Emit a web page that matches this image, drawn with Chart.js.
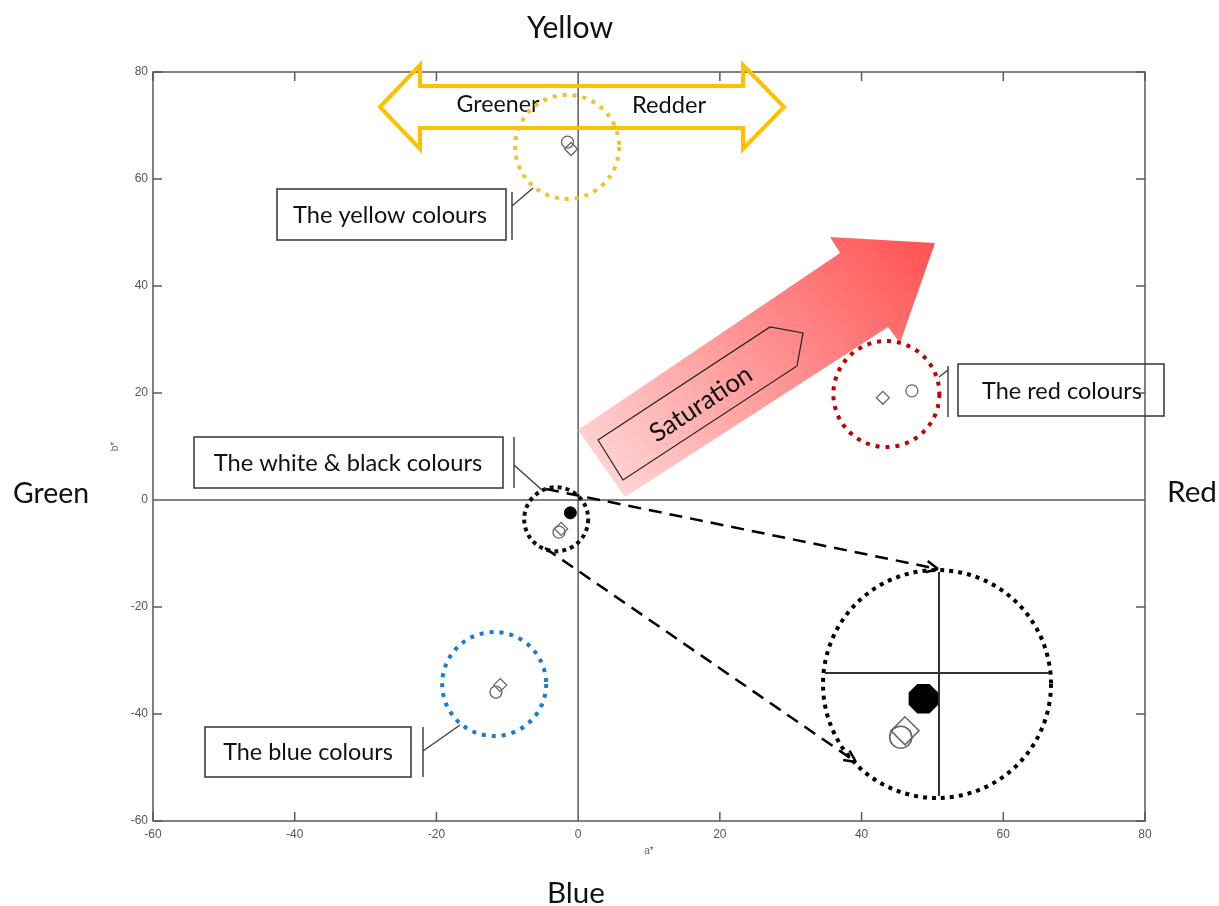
<!DOCTYPE html>
<html>
<head>
<meta charset="utf-8">
<script src="https://cdn.jsdelivr.net/npm/chart.js@4.4.1/dist/chart.umd.min.js"></script>
<style>
  html, body { margin: 0; padding: 0; background: #fff; }
  #wrap { width: 1219px; height: 906px; position: relative; }
</style>
</head>
<body>
<div id="wrap"><canvas id="chart"></canvas></div>
<script>
// a*/b* values, one entry per colour group
const groupNames = ['yellow', 'red', 'white & black', 'blue'];
const circleA = [-1.5, 47.1, -2.7, -11.6];
const circleB = [66.9, 20.4, -6.0, -35.9];
const diamondA = [-1.0, 43.0, -2.4, -11.0];
const diamondB = [65.6, 19.1, -5.4, -34.6];
// the one filled (black) sample
const blackA = [-1.1];
const blackB = [-2.4];
const axisTicks = [-60, -40, -20, 0, 20, 40, 60, 80];

const GREY = '#666';
const FONT = 'Lato, "Open Sans", sans-serif';
const TICK_FONT = { family: '"Liberation Sans", Arial, sans-serif', size: 12 };

// rings around each group, centre in a*/b*, radius in px
const rings = [
  { a: -1.55, b: 66.0, r: 52, colour: '#F2C12E' },
  { a: 43.5, b: 19.8, r: 53, colour: '#C00000' },
  { a: -3.1, b: -3.6, r: 32, colour: '#111' },
  { a: -11.85, b: -34.4, r: 52, colour: '#1C7CCB' },
];

// magnified view of the white & black group
const inset = { cx: 937, cy: 684, r: 114, ox: 939, oy: 673, zoom: 2 };

function toPoints(xs, ys) {
  return xs.map((x, i) => ({ x: x, y: ys[i] }));
}

function dottedCircle(ctx, cx, cy, r, colour, dash) {
  ctx.save();
  ctx.beginPath();
  ctx.arc(cx, cy, r, 0, Math.PI * 2);
  ctx.strokeStyle = colour;
  ctx.lineWidth = 4;
  ctx.setLineDash(dash || [4, 6]);
  ctx.stroke();
  ctx.restore();
}

function polygon(ctx, pts) {
  ctx.beginPath();
  pts.forEach(([x, y], i) => (i ? ctx.lineTo(x, y) : ctx.moveTo(x, y)));
  ctx.closePath();
}

function fitText(ctx, text, cx, cy, width, angle) {
  ctx.save();
  ctx.font = '100px ' + FONT;
  const size = 100 * width / ctx.measureText(text).width;
  ctx.font = size.toFixed(1) + 'px ' + FONT;
  ctx.fillStyle = '#111';
  ctx.textAlign = 'center';
  ctx.textBaseline = 'middle';
  ctx.translate(cx, cy);
  if (angle) ctx.rotate(angle);
  ctx.fillText(text, 0, 0);
  ctx.restore();
}

function dashedArrow(ctx, x1, y1, x2, y2) {
  ctx.save();
  ctx.strokeStyle = '#000';
  ctx.lineWidth = 2.5;
  ctx.setLineDash([13, 8]);
  ctx.beginPath();
  ctx.moveTo(x1, y1);
  ctx.lineTo(x2, y2);
  ctx.stroke();
  ctx.setLineDash([]);
  const ang = Math.atan2(y2 - y1, x2 - x1);
  ctx.beginPath();
  [-0.45, 0.45].forEach(d => {
    ctx.moveTo(x2, y2);
    ctx.lineTo(x2 - 13 * Math.cos(ang + d), y2 - 13 * Math.sin(ang + d));
  });
  ctx.stroke();
  ctx.restore();
}

function callout(ctx, box, bar, lineTo) {
  ctx.save();
  ctx.strokeStyle = '#333';
  ctx.lineWidth = 1.5;
  ctx.strokeRect(box[0], box[1], box[2] - box[0], box[3] - box[1]);
  ctx.strokeStyle = '#444';
  ctx.beginPath();
  ctx.moveTo(bar[0], bar[1]);
  ctx.lineTo(bar[0], bar[2]);
  ctx.moveTo(bar[0], bar[3]);
  ctx.lineTo(lineTo[0], lineTo[1]);
  ctx.stroke();
  ctx.restore();
}

const decor = {
  id: 'decor',
  beforeDatasetsDraw(chart) {
    const { ctx, chartArea: ca, scales: { x, y } } = chart;
    ctx.save();
    // axes box and zero lines
    ctx.strokeStyle = '#5a5a5a';
    ctx.lineWidth = 1.5;
    ctx.strokeRect(ca.left, ca.top, ca.right - ca.left, ca.bottom - ca.top);
    ctx.beginPath();
    ctx.moveTo(x.getPixelForValue(0), ca.top);
    ctx.lineTo(x.getPixelForValue(0), ca.bottom);
    ctx.moveTo(ca.left, y.getPixelForValue(0));
    ctx.lineTo(ca.right, y.getPixelForValue(0));
    // inward ticks on all four sides
    axisTicks.forEach(v => {
      const px = x.getPixelForValue(v);
      const py = y.getPixelForValue(v);
      ctx.moveTo(px, ca.bottom); ctx.lineTo(px, ca.bottom - 9);
      ctx.moveTo(px, ca.top); ctx.lineTo(px, ca.top + 9);
      ctx.moveTo(ca.left, py); ctx.lineTo(ca.left + 9, py);
      ctx.moveTo(ca.right, py); ctx.lineTo(ca.right - 9, py);
    });
    ctx.stroke();

    // axis names
    ctx.fillStyle = '#666';
    ctx.font = '10px "Liberation Sans", Arial, sans-serif';
    ctx.textAlign = 'center';
    ctx.textBaseline = 'middle';
    ctx.fillText('a*', (ca.left + ca.right) / 2, 851);
    ctx.save();
    ctx.translate(115, (ca.top + ca.bottom) / 2);
    ctx.rotate(-Math.PI / 2);
    ctx.fillText('b*', 0, 0);
    ctx.restore();

    // saturation arrow
    const grad = ctx.createLinearGradient(610, 490, 900, 230);
    grad.addColorStop(0, '#ffd5d5');
    grad.addColorStop(1, '#ff5757');
    ctx.fillStyle = grad;
    polygon(ctx, [[578, 430], [840, 253], [830, 237], [935, 243], [900, 343], [888, 327], [625, 497]]);
    ctx.fill();
    ctx.strokeStyle = '#222';
    ctx.lineWidth = 1.2;
    polygon(ctx, [[598, 440], [770, 327], [803, 333], [797, 366], [623, 480]]);
    ctx.stroke();
    fitText(ctx, 'Saturation', 701, 404, 117, Math.atan2(-113, 172));

    // greener / redder double arrow
    ctx.strokeStyle = '#FFC000';
    ctx.lineWidth = 4;
    ctx.lineJoin = 'miter';
    polygon(ctx, [[380, 107], [420, 65], [420, 86], [743, 86], [743, 65], [784, 107],
      [743, 149], [743, 128], [420, 128], [420, 149]]);
    ctx.stroke();
    fitText(ctx, 'Greener', 498, 105, 83);
    fitText(ctx, 'Redder', 669, 105, 74);

    // group rings
    rings.forEach((g, i) => {
      dottedCircle(ctx, x.getPixelForValue(g.a), y.getPixelForValue(g.b), g.r, g.colour,
        i === 2 ? [4, 4] : [4, 6]);
    });

    // zoom arrows and magnified inset
    dashedArrow(ctx, 546, 489, 938, 569);
    dashedArrow(ctx, 545, 548, 856, 762);
    dottedCircle(ctx, inset.cx, inset.cy, inset.r, '#000', [4, 5]);
    ctx.strokeStyle = '#333';
    ctx.lineWidth = 2;
    ctx.beginPath();
    ctx.moveTo(inset.cx - inset.r + 2, inset.oy);
    ctx.lineTo(inset.cx + inset.r - 2, inset.oy);
    ctx.moveTo(inset.ox, inset.cy - inset.r + 2);
    ctx.lineTo(inset.ox, inset.cy + inset.r - 2);
    ctx.stroke();
    ctx.restore();
  },
  afterDatasetsDraw(chart) {
    const { ctx, scales: { x, y } } = chart;
    ctx.save();
    // inset marks, magnified offsets from the origin
    const x0 = x.getPixelForValue(0), y0 = y.getPixelForValue(0);
    const at = (a, b) => [inset.ox + inset.zoom * (x.getPixelForValue(a) - x0),
      inset.oy + inset.zoom * (y.getPixelForValue(b) - y0)];
    const draw = Chart.helpers.drawPoint;
    let p = at(circleA[2], circleB[2]);
    ctx.strokeStyle = GREY; ctx.lineWidth = 1.6; ctx.fillStyle = 'rgba(0,0,0,0)';
    draw(ctx, { pointStyle: 'circle', radius: 11, borderWidth: 1.6 }, p[0], p[1]);
    p = at(diamondA[2], diamondB[2]);
    draw(ctx, { pointStyle: 'rectRot', radius: 14, borderWidth: 1.6 }, p[0], p[1]);
    // filled octagon for the black sample
    p = at(blackA[0], blackB[0]);
    ctx.fillStyle = '#000';
    polygon(ctx, Array.from({ length: 8 }, (_, k) => {
      const t = Math.PI / 8 + k * Math.PI / 4;
      return [p[0] + 16 * Math.cos(t), p[1] + 16 * Math.sin(t)];
    }));
    ctx.fill();

    // callout boxes
    callout(ctx, [277, 189, 506, 240], [512, 192, 240, 206], [533, 188]);
    fitText(ctx, 'The yellow colours', 390, 215, 194);
    callout(ctx, [958, 364, 1164, 416], [948, 366, 417, 370], [939, 377]);
    fitText(ctx, 'The red colours', 1062, 391, 160);
    callout(ctx, [194, 437, 503, 488], [514, 437, 488, 465], [542, 490]);
    fitText(ctx, 'The white & black colours', 348, 463, 269);
    callout(ctx, [205, 727, 411, 777], [423, 727, 777, 751], [460, 725]);
    fitText(ctx, 'The blue colours', 308, 752, 170);

    // hue names around the plot
    fitText(ctx, 'Yellow', 570, 28, 86);
    fitText(ctx, 'Green', 51, 494, 76);
    fitText(ctx, 'Red', 1192, 492, 50);
    fitText(ctx, 'Blue', 576, 893, 58);
    ctx.restore();
  }
};

const ctx = document.getElementById('chart');
const tickValues = s => { s.ticks = axisTicks.map(v => ({ value: v })); };

const chart = new Chart(ctx, {
  type: 'scatter',
  data: {
    datasets: [
      {
        label: 'circle',
        data: toPoints(circleA, circleB),
        pointStyle: 'circle',
        pointRadius: 6,
        borderWidth: 1.3,
        borderColor: GREY,
        backgroundColor: 'rgba(0,0,0,0)',
      },
      {
        label: 'diamond',
        data: toPoints(diamondA, diamondB),
        pointStyle: 'rectRot',
        pointRadius: 6.5,
        borderWidth: 1.3,
        borderColor: GREY,
        backgroundColor: 'rgba(0,0,0,0)',
      },
      {
        label: 'black',
        data: toPoints(blackA, blackB),
        pointStyle: 'circle',
        pointRadius: 6,
        borderWidth: 1,
        borderColor: '#000',
        backgroundColor: '#000',
      },
    ],
  },
  options: {
    responsive: true,
    maintainAspectRatio: false,
    animation: false,
    layout: { padding: { left: 0, right: 74, top: 72, bottom: 0 } },
    plugins: { legend: { display: false }, tooltip: { enabled: false } },
    scales: {
      x: {
        type: 'linear',
        min: -60,
        max: 80,
        afterBuildTicks: tickValues,
        afterFit: s => { s.height = 85; },
        grid: { display: false, drawTicks: false },
        border: { display: false },
        ticks: { padding: 6, color: '#555', font: TICK_FONT, maxRotation: 0, autoSkip: false },
      },
      y: {
        type: 'linear',
        min: -60,
        max: 80,
        afterBuildTicks: tickValues,
        afterFit: s => { s.width = 153; },
        grid: { display: false, drawTicks: false },
        border: { display: false },
        ticks: { padding: 5, color: '#555', font: TICK_FONT, autoSkip: false },
      },
    },
  },
  plugins: [decor],
});
</script>
</body>
</html>
